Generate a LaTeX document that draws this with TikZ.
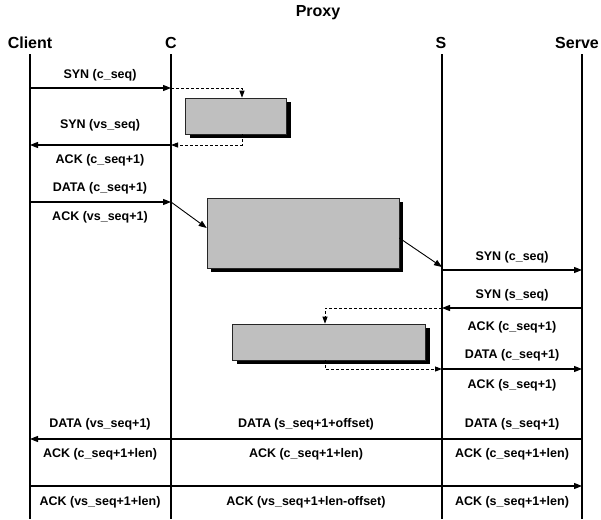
\documentclass[tikz,border=0pt]{standalone}
\usepackage{fontspec}
\setmainfont{Liberation Sans}
\usetikzlibrary{arrows.meta, shadows, calc}

\tikzset{
  head/.style={font=\fontsize{16}{18}\selectfont\bfseries, inner sep=1pt},
  lbl/.style={font=\fontsize{12.5}{14}\selectfont\bfseries, inner sep=1pt},
  life/.style={line width=1.6pt},
  msg/.style={line width=1.1pt, -{Triangle[length=8pt, width=6pt]}},
  dmsg/.style={line width=0.9pt, dash pattern=on 3pt off 2pt, -{Triangle[length=7pt, width=5pt]}},
  procbox/.style={draw=black!85, fill=gray!50, line width=0.6pt, inner sep=0pt,
    drop shadow={shadow xshift=4pt, shadow yshift=-4pt, fill=black, opacity=1}}
}

\begin{document}
\begin{tikzpicture}[x=1pt, y=-1pt]
  \useasboundingbox (0,0) rectangle (601,519);

  % Headers
  \node[head] (proxy) at (318,13) {Proxy};
  \node[head] (client) at (30,43) {Client};
  \node[head] (cside) at (171,43) {C};
  \node[head] (sside) at (441,43) {S};
  \node[head] (server) at (577,43) {Serve};

  % Lifelines
  \coordinate (cl) at (30,54);
  \coordinate (pc) at (171,54);
  \coordinate (ps) at (442,54);
  \coordinate (sv) at (582,54);
  \coordinate (bot) at (0,519);
  \foreach \l in {cl, pc, ps, sv}
    \draw[life] (\l) -- (\l |- bot);

  % Message rows
  \coordinate (r1) at (0,88);
  \coordinate (r2) at (0,145);
  \coordinate (r3) at (0,202);
  \coordinate (r4) at (0,270);
  \coordinate (r5) at (0,308);
  \coordinate (r6) at (0,369);
  \coordinate (r7) at (0,439);
  \coordinate (r8) at (0,486);

  % Processing boxes
  \node[procbox, minimum width=101pt, minimum height=36pt] (box1) at (236,116) {};
  \node[procbox, minimum width=192pt, minimum height=70pt] (box2) at (303,233) {};
  \node[procbox, minimum width=193pt, minimum height=36pt] (box3) at (329,342) {};

  % Client <-> C handshake
  \node[lbl] (l1) at (100,75) {SYN (c\_seq)};
  \draw[msg] (cl |- r1) -- (pc |- r1);
  \coordinate (d1) at (242,88);
  \draw[dmsg] (pc |- r1) -- (d1) -- (d1 |- box1.north);
  \coordinate (d2) at (242,145);
  \draw[dmsg] (d2 |- box1.south) -- (d2) -- (pc |- r2);
  \node[lbl] (l2) at (100,125) {SYN (vs\_seq)};
  \draw[msg] (pc |- r2) -- (cl |- r2);
  \node[lbl] (l3) at (100,160) {ACK (c\_seq+1)};
  \node[lbl] (l4) at (100,188) {DATA (c\_seq+1)};
  \draw[msg] (cl |- r3) -- (pc |- r3);
  \node[lbl] (l5) at (100,217) {ACK (vs\_seq+1)};
  \draw[line width=0.9pt, -{Triangle[length=8pt, width=6pt]}] (pc |- r3) -- ($(box2.west)+(0,-5)$);
  \draw[line width=0.9pt, -{Triangle[length=8pt, width=6pt]}] ($(box2.east)+(0,5)$) -- ($(ps)+(0,213)$);

  % S <-> Server handshake
  \node[lbl] (l6) at (512,257) {SYN (c\_seq)};
  \draw[msg] (ps |- r4) -- (sv |- r4);
  \node[lbl] (l7) at (512,295) {SYN (s\_seq)};
  \draw[msg] (sv |- r5) -- (ps |- r5);
  \coordinate (d3) at (325,308);
  \draw[dmsg] (ps |- r5) -- (d3) -- (d3 |- box3.north);
  \coordinate (d4) at (325,369);
  \draw[dmsg] (d4 |- box3.south) -- (d4) -- (ps |- r6);
  \node[lbl] (l8) at (512,327) {ACK (c\_seq+1)};
  \node[lbl] (l9) at (512,355) {DATA (c\_seq+1)};
  \draw[msg] (ps |- r6) -- (sv |- r6);
  \node[lbl] (l10) at (512,385) {ACK (s\_seq+1)};

  % Data transfer
  \node[lbl] (l11) at (100,424) {DATA (vs\_seq+1)};
  \node[lbl] (l12) at (306,424) {DATA (s\_seq+1+offset)};
  \node[lbl] (l13) at (512,424) {DATA (s\_seq+1)};
  \draw[msg] (sv |- r7) -- (cl |- r7);
  \node[lbl] (l14) at (100,454) {ACK (c\_seq+1+len)};
  \node[lbl] (l15) at (306,454) {ACK (c\_seq+1+len)};
  \node[lbl] (l16) at (512,454) {ACK (c\_seq+1+len)};
  \draw[msg] (cl |- r8) -- (sv |- r8);
  \node[lbl] (l17) at (100,502) {ACK (vs\_seq+1+len)};
  \node[lbl] (l18) at (306,502) {ACK (vs\_seq+1+len-offset)};
  \node[lbl] (l19) at (512,502) {ACK (s\_seq+1+len)};
\end{tikzpicture}
\end{document}
